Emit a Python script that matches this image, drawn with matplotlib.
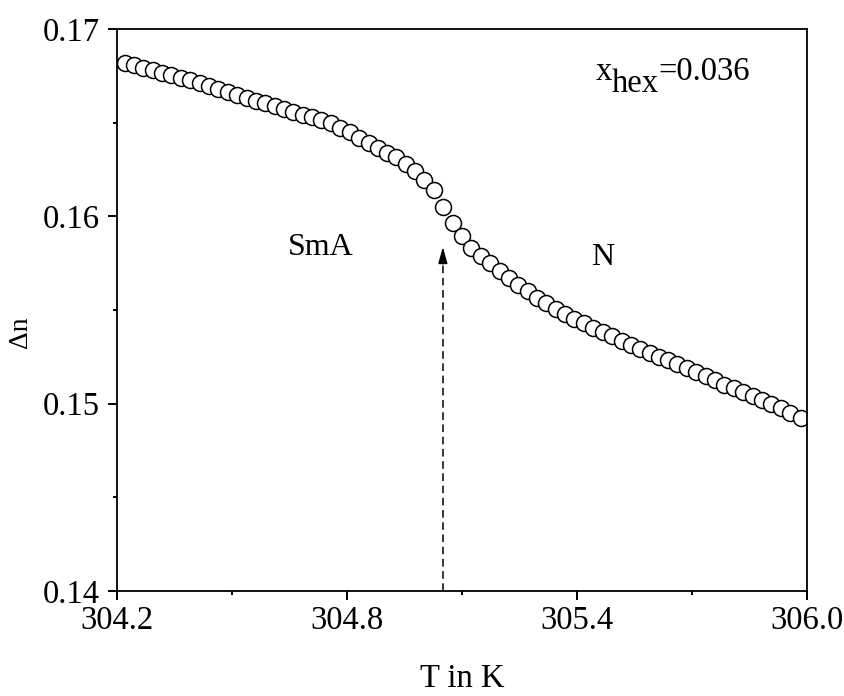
"""Birefringence (delta n) vs temperature across the SmA-N transition, x_hex = 0.036."""
import matplotlib
matplotlib.use("Agg")
import matplotlib.pyplot as plt

plt.rcParams["font.family"] = ["Liberation Serif", "DejaVu Serif"]

# ---- data ----
T = [304.220, 304.244, 304.269, 304.293, 304.318, 304.342, 304.367, 304.391,
     304.416, 304.440, 304.464, 304.489, 304.513, 304.538, 304.562, 304.587,
     304.611, 304.636, 304.660, 304.684, 304.709, 304.733, 304.758, 304.782,
     304.807, 304.831, 304.856, 304.880, 304.904, 304.929, 304.953, 304.978,
     305.002, 305.027, 305.051, 305.076, 305.100, 305.124, 305.149, 305.173,
     305.198, 305.222, 305.247, 305.271, 305.296, 305.320, 305.344, 305.369,
     305.393, 305.418, 305.442, 305.467, 305.491, 305.516, 305.540, 305.564,
     305.589, 305.613, 305.638, 305.662, 305.687, 305.711, 305.736, 305.760,
     305.784, 305.809, 305.833, 305.858, 305.882, 305.907, 305.931, 305.956,
     305.985]
DN = [0.16819, 0.16806, 0.16794, 0.16779, 0.16767, 0.16755, 0.16740, 0.16725,
      0.16709, 0.16694, 0.16678, 0.16662, 0.16646, 0.16631, 0.16615, 0.16603,
      0.16588, 0.16572, 0.16556, 0.16540, 0.16529, 0.16513, 0.16497, 0.16471,
      0.16449, 0.16417, 0.16390, 0.16364, 0.16337, 0.16316, 0.16278, 0.16241,
      0.16193, 0.16140, 0.16050, 0.15965, 0.15896, 0.15833, 0.15790, 0.15749,
      0.15706, 0.15668, 0.15632, 0.15600, 0.15563, 0.15537, 0.15505, 0.15479,
      0.15453, 0.15431, 0.15406, 0.15384, 0.15359, 0.15337, 0.15311, 0.15290,
      0.15270, 0.15249, 0.15233, 0.15212, 0.15192, 0.15170, 0.15149, 0.15128,
      0.15102, 0.15082, 0.15061, 0.15040, 0.15019, 0.14997, 0.14976, 0.14950,
      0.14925]
T_C, DN_TIP = 305.05, 0.15836          # transition arrow
XTICKS = [304.2, 304.8, 305.4, 306.0]
YTICKS = [0.14, 0.15, 0.16, 0.17]

fig = plt.figure(figsize=(8.45, 6.96), dpi=100)
ax = fig.add_axes([0.1385, 0.1509, 0.8166, 0.8075])

ax.plot(T, DN, "o", ms=11.5, mfc="white", mec="black", mew=1.1, ls="none")

# dashed arrow marking the transition
ax.plot([T_C, T_C], [0.14, DN_TIP - 0.0008], color="black", lw=1.1, ls=(0, (5, 3)))
ax.annotate("", xy=(T_C, DN_TIP), xytext=(T_C, DN_TIP - 0.0009),
            arrowprops=dict(arrowstyle="-|>,head_length=1.0,head_width=0.28",
                            color="black", lw=1.0, shrinkA=0, shrinkB=0))

ax.text(304.732, 0.15794, "SmA", fontsize=23, ha="center", va="baseline")
ax.text(305.467, 0.15740, "N", fontsize=23, ha="center", va="baseline")

# x_hex=0.036 with full-size subscript
t1 = ax.text(0.693, 0.909, "x", fontsize=23.5, transform=ax.transAxes, va="baseline")
t2 = ax.annotate("hex", xy=(1, 0), xycoords=t1, xytext=(0, -8.5),
                 textcoords="offset points", fontsize=23.5, va="bottom")
ax.annotate("=0.036", xy=(1, 0), xycoords=t2, xytext=(0, 8.5),
            textcoords="offset points", fontsize=23.5, va="bottom")

ax.set_xlim(304.2, 306.0)
ax.set_ylim(0.14, 0.17)
ax.set_xticks(XTICKS)
ax.set_xticklabels([f"{v:.1f}" for v in XTICKS])
ax.set_xticks([304.5, 305.1, 305.7], minor=True)
ax.set_yticks(YTICKS)
ax.set_yticklabels([f"{v:.2f}" for v in YTICKS])
ax.set_yticks([0.145, 0.155, 0.165], minor=True)
ax.tick_params(which="major", direction="out", length=6.5, width=1.4,
               labelsize=23.5, top=False, right=False)
ax.tick_params(axis="x", which="major", pad=4)
ax.tick_params(axis="y", which="major", pad=6)
ax.tick_params(which="minor", direction="out", length=3, width=1.4, top=False, right=False)
for s in ax.spines.values():
    s.set_linewidth(1.3)

ax.set_xlabel("T in K", fontsize=23.5, labelpad=20)
ax.set_ylabel("\u0394n", fontsize=20)
ax.yaxis.set_label_coords(-0.122, 0.461)

fig.savefig("out.png", dpi=100)
